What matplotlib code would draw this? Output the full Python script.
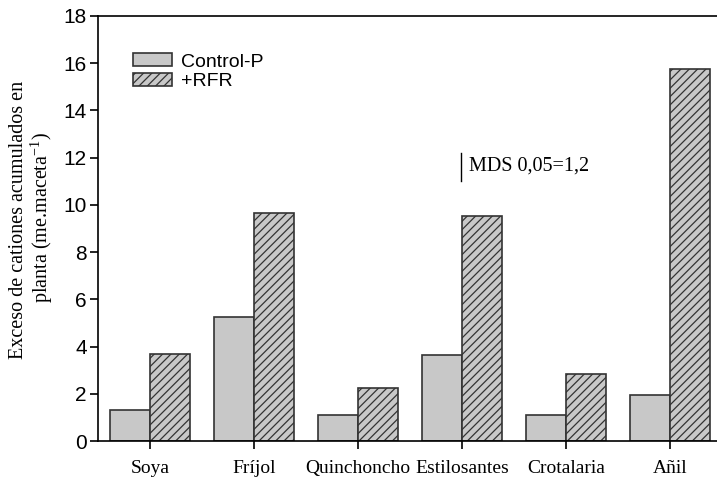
import numpy as np
import matplotlib.pyplot as plt
from matplotlib.patches import Patch

cultivos = ['Soya', 'Fríjol', 'Quinchoncho', 'Estilosantes', 'Crotalaria', 'Añil']
control_p = [1.3, 5.25, 1.1, 3.65, 1.1, 1.95]
rfr = [3.7, 9.65, 2.25, 9.55, 2.85, 15.75]

gris = '#c8c8c8'
borde = '#333333'
plt.rcParams['hatch.color'] = '#444444'
plt.rcParams['hatch.linewidth'] = 0.9
plt.rcParams['mathtext.fontset'] = 'custom'
plt.rcParams['mathtext.rm'] = 'Liberation Serif'

fig = plt.figure(figsize=(7.17, 4.79), dpi=100)
ax = fig.add_axes([0.1367, 0.0793, 0.8633, 0.8873])

x = np.arange(len(cultivos))
w = 0.385
ax.bar(x - w / 2, control_p, w, color=gris, edgecolor=borde, linewidth=1.2)
ax.bar(x + w / 2, rfr, w, color=gris, edgecolor=borde, linewidth=1.2, hatch='////')

ax.set_xlim(-0.5, 5.45)
ax.set_ylim(0, 18)
ax.set_yticks(range(0, 19, 2))
ax.set_xticks(x)
ax.set_xticklabels(cultivos, family='Liberation Serif', fontsize=14)
for lab in ax.get_yticklabels():
    lab.set_family('Liberation Sans')
    lab.set_fontsize(15)
ax.tick_params(axis='both', direction='out', length=6, width=1.2, colors='black')
ax.tick_params(axis='x', pad=7.5)
ax.tick_params(axis='y', pad=2)

ax.spines['right'].set_visible(False)
for s in ['left', 'bottom', 'top']:
    ax.spines[s].set_linewidth(1.2)

# etiqueta del eje y en dos lineas
fig.text(19 / 717, 0.541, 'Exceso de cationes acumulados en', family='Liberation Serif',
         fontsize=14.5, rotation=90, ha='center', va='center')
fig.text(42 / 717, 0.545, 'planta (me.maceta$^{\\mathrm{-1}}$)', family='Liberation Serif',
         fontsize=14.5, rotation=90, ha='center', va='center')

# MDS
ax.plot([2.99, 2.99], [11.0, 12.2], color='black', linewidth=1)
ax.text(3.07, 11.65, 'MDS 0,05=1,2', family='Liberation Serif', fontsize=14.5, va='center')

handles = [Patch(facecolor=gris, edgecolor=borde, linewidth=1.2, label='Control-P'),
           Patch(facecolor=gris, edgecolor=borde, linewidth=1.2, hatch='////', label='+RFR')]
ax.legend(handles=handles, loc='upper left', bbox_to_anchor=(0.035, 0.944), frameon=False,
          prop={'family': 'Liberation Sans', 'size': 14}, handlelength=2.0, handleheight=0.65,
          handletextpad=0.45, labelspacing=0.1, borderpad=0.2)

fig.savefig('out.png', dpi=100)
